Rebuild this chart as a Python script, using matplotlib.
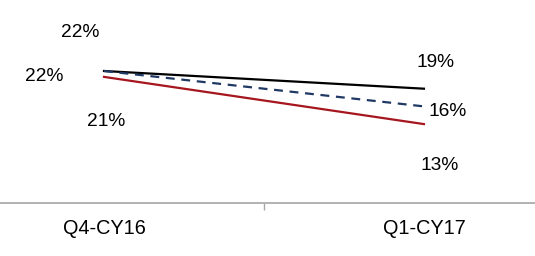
import matplotlib
matplotlib.use('Agg')
import matplotlib.pyplot as plt

plt.rcParams['font.family'] = ['Liberation Sans', 'DejaVu Sans']

# Данные
categories = ['Q4-CY16', 'Q1-CY17']
black_vals = [22, 19]
dashed_vals = [22, 16]
red_vals = [21, 13]

# Подписи значений: (текст, смещение в пунктах)
black_labels = [('22%', (-17, 28)), ('19%', (8, 19))]
dashed_labels = [('22%', (-43, -4)), ('16%', (17, -4))]
red_labels = [('21%', (1.5, -32)), ('13%', (11.5, -29.5))]

fig = plt.figure(figsize=(5.35, 2.56), dpi=100)
ax = fig.add_axes([0, 53 / 256, 1, 203 / 256])

x = list(range(len(categories)))
series = [
    (black_vals, black_labels, dict(color='black', lw=1.6, ls='-')),
    (dashed_vals, dashed_labels, dict(color='#1F3864', lw=1.6, ls=(0, (4, 3)))),
    (red_vals, red_labels, dict(color='#A5161E', lw=1.6, ls='-')),
]

for vals, labels, style in series:
    ax.plot(x, vals, **style)
    for xi, v, (txt, off) in zip(x, vals, labels):
        ax.annotate(txt, (xi, v), textcoords='offset points', xytext=off,
                    ha='center', va='center', fontsize=13.8, color='black')

ax.set_xlim(-0.325, 1.347)
ax.set_ylim(-0.37, 34.03)

for s in ['top', 'right', 'left']:
    ax.spines[s].set_visible(False)
ax.spines['bottom'].set_color('#A6A6A6')
ax.spines['bottom'].set_linewidth(1.2)

ax.set_yticks([])
ax.set_xticks(x)
ax.set_xticklabels(categories, fontsize=14.3)
ax.tick_params(axis='x', which='major', length=0, pad=11.5)
ax.set_xticks([0.5], minor=True)
ax.tick_params(axis='x', which='minor', length=5, width=1, color='#A6A6A6')

fig.savefig('out.png', dpi=100)
